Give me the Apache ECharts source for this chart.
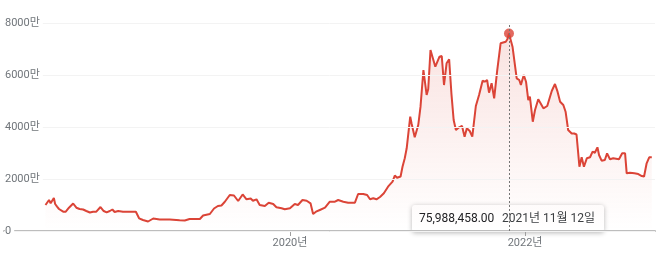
<!DOCTYPE html>
<html>
<head>
<meta charset="utf-8">
<script src="https://cdn.jsdelivr.net/npm/echarts@6/dist/echarts.min.js"></script>
<style>
html,body{margin:0;padding:0;background:#fff;}
#chart{width:662px;height:256px;}
</style>
</head>
<body>
<div id="chart"></div>
<script>
// Dates and prices (unit: 만원)
const dates = [
'2017-12-02','2017-12-07','2017-12-13','2017-12-18','2017-12-28','2018-01-01','2018-01-07','2018-01-13','2018-01-18','2018-01-26',
'2018-02-03','2018-02-13','2018-02-26','2018-03-08','2018-03-18','2018-03-29','2018-04-08','2018-04-19','2018-04-29','2018-05-09',
'2018-05-22','2018-06-01','2018-06-10','2018-06-20','2018-06-28','2018-07-05','2018-07-16','2018-07-31','2018-08-21','2018-09-09',
'2018-09-19','2018-10-01','2018-10-17','2018-11-02','2018-11-22','2018-12-23',
'2019-01-23','2019-02-08','2019-02-23','2019-03-27','2019-04-06','2019-04-27','2019-05-10','2019-05-22','2019-06-02','2019-06-12',
'2019-06-28','2019-07-11','2019-07-24','2019-08-07','2019-08-19','2019-09-01','2019-09-08','2019-09-19','2019-09-29','2019-10-15',
'2019-10-27','2019-11-10','2019-11-20','2019-12-06','2019-12-16',
'2020-01-01','2020-01-16','2020-01-26','2020-02-09','2020-02-22','2020-03-05','2020-03-13','2020-03-22','2020-04-03','2020-04-19',
'2020-05-04','2020-05-20','2020-05-30','2020-06-15','2020-06-30','2020-07-21','2020-07-31','2020-08-16','2020-08-28','2020-09-06',
'2020-09-16','2020-09-26','2020-10-07','2020-10-19','2020-11-01','2020-11-15','2020-11-22','2020-11-29','2020-12-10','2020-12-16',
'2020-12-23','2020-12-29',
'2021-01-09','2021-01-13','2021-01-23','2021-02-03','2021-02-10','2021-02-19','2021-03-01','2021-03-06','2021-03-13','2021-03-19',
'2021-03-28','2021-04-10','2021-04-17','2021-04-24','2021-05-02','2021-05-10','2021-05-17','2021-05-24','2021-05-31','2021-06-10',
'2021-06-19','2021-06-27','2021-07-04','2021-07-13','2021-07-21','2021-08-01','2021-08-11','2021-08-22','2021-08-29','2021-09-05',
'2021-09-11','2021-09-19','2021-09-27','2021-10-06','2021-10-17','2021-11-02','2021-11-07','2021-11-12','2021-11-23','2021-12-06',
'2021-12-14','2021-12-19','2021-12-28',
'2022-01-04','2022-01-11','2022-01-16','2022-01-25','2022-02-01','2022-02-11','2022-02-27','2022-03-11','2022-03-25','2022-04-04',
'2022-04-12','2022-04-20','2022-04-30','2022-05-07','2022-05-15','2022-05-26','2022-06-03','2022-06-10','2022-06-14',
'2022-06-19','2022-06-26','2022-07-03','2022-07-12','2022-07-22','2022-07-30','2022-08-06','2022-08-14','2022-08-19','2022-08-27',
'2022-09-06','2022-09-13','2022-09-22','2022-10-02','2022-10-20','2022-10-30','2022-11-08','2022-11-13','2022-11-23','2022-12-07',
'2022-12-19','2022-12-30','2023-01-06','2023-01-14','2023-01-22','2023-01-30'
];
const prices = [
1000,935,1192,1065,1269,1038,935,846,896,742,
742,896,1058,896,846,827,769,712,742,742,
923,769,719,769,827,731,769,742,742,742,
488,423,365,481,442,442,
412,404,462,462,596,654,865,962,981,1115,
1385,1365,1154,1404,1219,1250,1165,1219,1000,962,
1088,1038,912,873,835,
873,1038,1000,1192,1165,1065,654,742,808,896,
1127,1127,1192,1127,1088,1088,1423,1423,1385,1219,
1258,1219,1308,1450,1704,1896,2135,2046,2096,2473,
2796,3181,
4396,4142,3604,4077,4781,6192,5231,5461,6961,6704,
6319,6704,6731,5615,6450,6604,5296,4269,3885,3988,
4038,3627,3950,3846,3627,4808,5231,5781,5742,5807,
5319,5681,5104,6127,7219,7281,7373,7598.8458,7088,5873,
5807,5615,6000,
5742,5038,5165,4204,4654,5065,4719,4808,5384,5654,
5358,4973,4846,4588,3885,3750,3750,3711,3654,
2473,2835,2473,2796,2835,3050,3011,3219,2923,2704,
2731,2988,2758,2796,2758,2988,2988,2219,2242,2219,
2192,2115,2096,2604,2835,2835
];
const yTicks = [0, 2000, 4000, 6000, 8000];
const xLabelYears = [2020, 2022];
const peakDate = '2021-11-12';
const tipPrice = '75,988,458.00';
const tipDate = '2021년 11월 12일';

const FONT = "Roboto, Arial, 'Noto Sans CJK KR', sans-serif";
const RED = '#db4437';
const ts = s => { const p = s.split('-').map(Number); return new Date(p[0], p[1] - 1, p[2]).getTime(); };
const series = dates.map((d, i) => [ts(d), prices[i]]);
const peakIdx = dates.indexOf(peakDate);
const peakTs = ts(peakDate);
const yearTs = xLabelYears.map(y => new Date(y, 0, 1).getTime());

const chart = echarts.init(document.getElementById('chart'), null, {renderer: 'canvas'});
chart.setOption({
  animation: false,
  grid: {left: 4, right: 7, top: 23, bottom: 25, containLabel: false},
  xAxis: {
    type: 'value',
    min: ts('2017-07-26'),
    max: ts('2023-02-09'),
    z: 1,
    axisLine: {show: true, lineStyle: {color: '#bdbdbd', width: 2}},
    axisTick: {show: true, customValues: yearTs, length: 5, lineStyle: {color: '#9e9e9e', width: 1}},
    axisLabel: {
      customValues: yearTs, margin: 7, color: '#70757a', fontSize: 11, fontFamily: FONT,
      formatter: v => new Date(v).getFullYear() + '년'
    },
    splitLine: {show: false}
  },
  yAxis: {
    type: 'value', min: yTicks[0], max: yTicks[yTicks.length - 1], interval: 2000,
    z: 3,
    axisLine: {show: false}, axisTick: {show: false},
    axisLabel: {
      inside: true, margin: 1, color: '#70757a', fontSize: 11, fontFamily: FONT,
      backgroundColor: '#fff', padding: [1, 3, 1, 0],
      formatter: v => v === 0 ? '0' : v + '만'
    },
    splitLine: {show: true, lineStyle: {color: '#f3f3f3', width: 1}}
  },
  series: [
    {
      type: 'line', data: series, showSymbol: false, symbol: 'none',
      lineStyle: {color: RED, width: 2}, z: 2,
      areaStyle: {
        color: new echarts.graphic.LinearGradient(0, 0, 0, 1, [
          {offset: 0, color: 'rgba(219,68,55,0.22)'},
          {offset: 1, color: 'rgba(219,68,55,0)'}
        ])
      }
    },
    {
      type: 'scatter', data: [[peakTs, prices[peakIdx]]], symbolSize: 10,
      itemStyle: {color: RED}, z: 4,
      markLine: {
        silent: true, symbol: 'none', label: {show: false},
        lineStyle: {color: '#757575', type: [2, 2], width: 1},
        data: [{xAxis: peakTs}]
      }
    }
  ]
});

// tooltip-like box centred on the peak, resting on the axis
const px = chart.convertToPixel({gridIndex: 0}, [peakTs, 0]);
const boxW = 192, boxH = 27;
const bx = Math.round(px[0] - boxW / 2 - 1), by = Math.round(px[1] - 26);
chart.setOption({
  graphic: [{
    type: 'group', z: 100, children: [
      {type: 'rect', shape: {x: bx, y: by, width: boxW, height: boxH, r: 3},
       style: {fill: '#fff', shadowBlur: 5, shadowColor: 'rgba(0,0,0,0.28)', shadowOffsetY: 1}},
      {type: 'text', x: bx + 7, y: by + boxH / 2,
       style: {text: tipPrice, fill: '#202124', fontSize: 12, fontFamily: FONT, verticalAlign: 'middle'}},
      {type: 'text', x: bx + 90, y: by + boxH / 2,
       style: {text: tipDate, fill: '#3c4043', fontSize: 12, fontFamily: FONT, verticalAlign: 'middle'}}
    ]
  }]
});
</script>
</body>
</html>
